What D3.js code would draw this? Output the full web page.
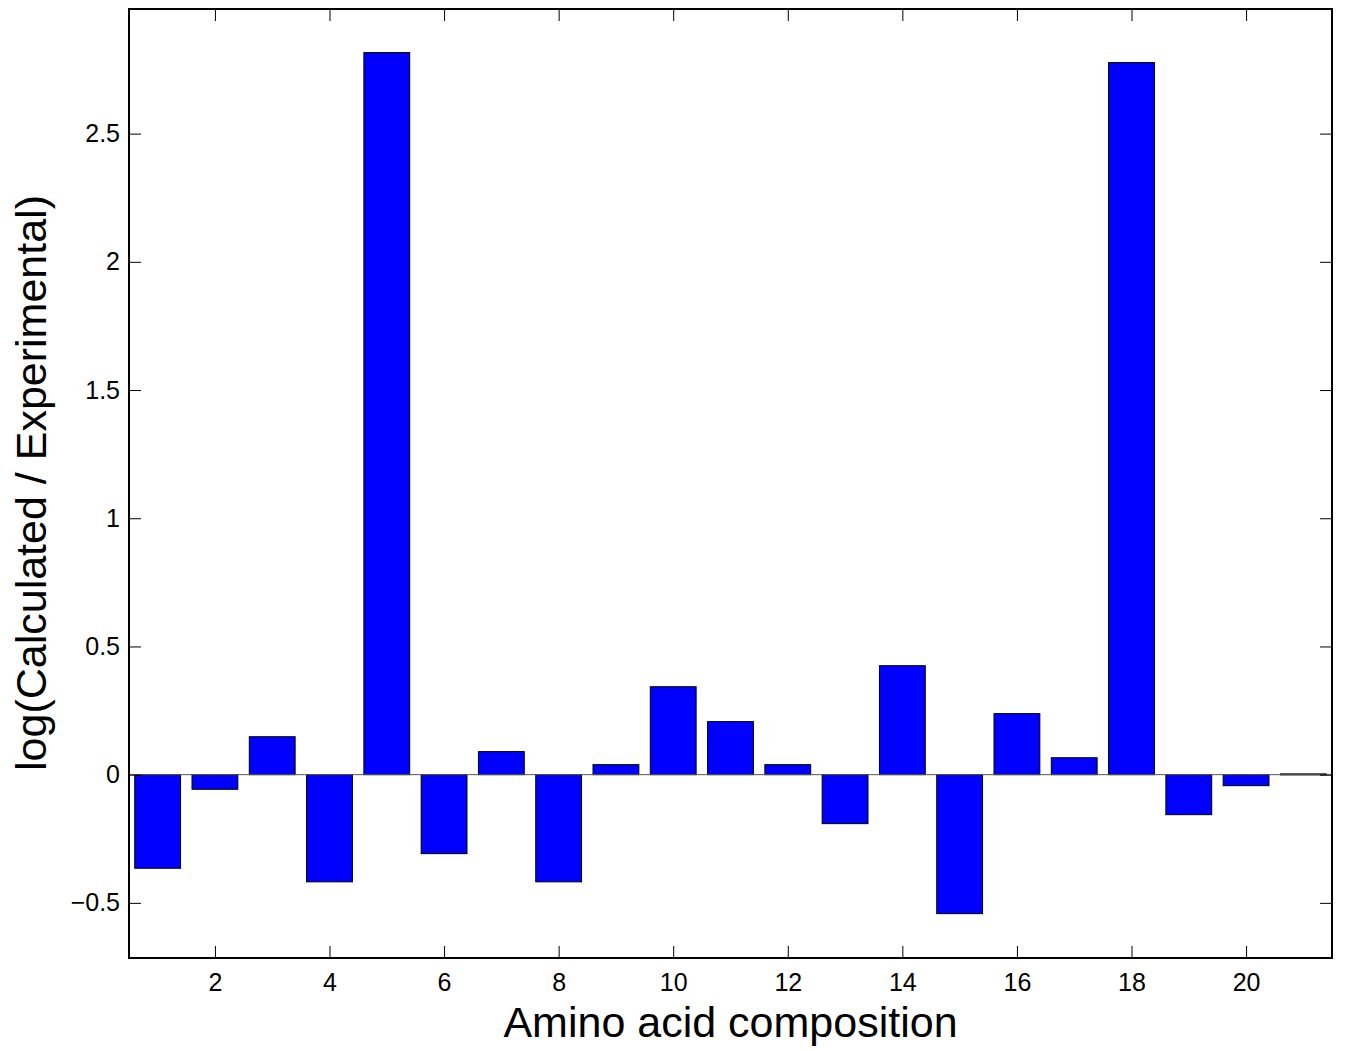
<!DOCTYPE html>
<html><head><meta charset="utf-8">
<script src="https://cdn.jsdelivr.net/npm/d3@7"></script>
<style>body{margin:0;background:#fff}svg{display:block}text{font-family:"Liberation Sans",Arial,sans-serif}</style>
</head><body><svg id="c" width="1345" height="1051"></svg>
<script>
const categories = d3.range(1, 22);
const values = [-0.365, -0.057, 0.148, -0.418, 2.816, -0.308, 0.090, -0.418, 0.039, 0.343,
                0.207, 0.039, -0.191, 0.425, -0.542, 0.238, 0.066, 2.777, -0.156, -0.043, 0.003];
const xTicks = [2, 4, 6, 8, 10, 12, 14, 16, 18, 20];
const yTicks = [-0.5, 0, 0.5, 1, 1.5, 2, 2.5];
const yTickLabels = ["\u22120.5", "0", "0.5", "1", "1.5", "2", "2.5"];

const L = 129, R = 1332, T = 9, B = 958;
const svg = d3.select("#c");
const x = d3.scaleLinear().domain([0.5, 21.5]).range([L, R]);
const y = d3.scaleLinear().domain([-0.715, 2.986]).range([B, T]);
const bw = x(0.8) - x(0);

// bars
svg.append("g").selectAll("rect").data(categories).join("rect")
  .attr("x", d => x(d) - bw / 2)
  .attr("width", bw)
  .attr("y", (d, i) => y(Math.max(0, values[i])))
  .attr("height", (d, i) => Math.max(1, Math.abs(y(values[i]) - y(0))))
  .attr("fill", "#0000ff").attr("stroke", "#000").attr("stroke-width", 1);

// baseline
svg.append("line").attr("x1", L).attr("x2", R).attr("y1", y(0)).attr("y2", y(0))
  .attr("stroke", "#555").attr("stroke-width", 1);

const tl = 12;
// axes (inward ticks, mirrored)
const axB = svg.append("g").attr("transform", `translate(0,${B})`)
  .call(d3.axisBottom(x).tickValues(xTicks).tickSize(-tl).tickPadding(15).tickSizeOuter(0));
const axT = svg.append("g").attr("transform", `translate(0,${T})`)
  .call(d3.axisTop(x).tickValues(xTicks).tickSize(-tl).tickFormat("").tickSizeOuter(0));
const axL = svg.append("g").attr("transform", `translate(${L},0)`)
  .call(d3.axisLeft(y).tickValues(yTicks).tickSize(-tl).tickPadding(9).tickSizeOuter(0)
    .tickFormat((d, i) => yTickLabels[i]));
const axR = svg.append("g").attr("transform", `translate(${R},0)`)
  .call(d3.axisRight(y).tickValues(yTicks).tickSize(-tl).tickFormat("").tickSizeOuter(0));
[axB, axT, axL, axR].forEach(a => {
  a.select(".domain").remove();
  a.selectAll(".tick line").attr("stroke", "#000").attr("stroke-width", 1);
  a.selectAll("text").attr("font-size", 25).attr("fill", "#000")
    .style("font-family", '"Liberation Sans",Arial,sans-serif');
});

// box
svg.append("rect").attr("x", L).attr("y", T).attr("width", R - L).attr("height", B - T)
  .attr("fill", "none").attr("stroke", "#000").attr("stroke-width", 2);

// labels
svg.append("text").attr("x", (L + R) / 2).attr("y", 1037).attr("text-anchor", "middle")
  .attr("font-size", 43).text("Amino acid composition");
svg.append("text").attr("transform", `translate(46,${(198 + 768) / 2}) rotate(-90)`)
  .attr("text-anchor", "middle").attr("font-size", 43).text("log(Calculated / Experimental)");
</script></body></html>
